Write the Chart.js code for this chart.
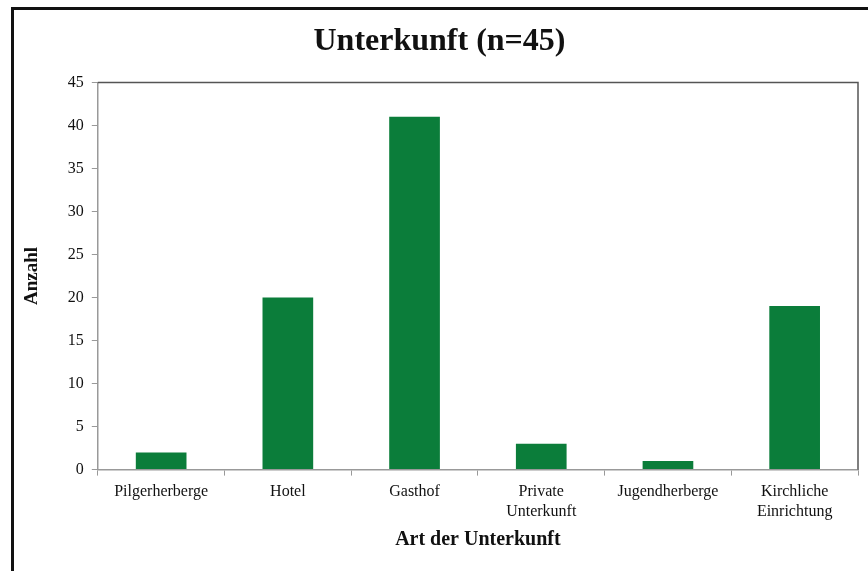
<!DOCTYPE html>
<html>
<head>
<meta charset="utf-8">
<script src="https://cdn.jsdelivr.net/npm/chart.js@4"></script>
<style>
  html, body { margin: 0; padding: 0; background: #fff; }
  #wrap { position: relative; width: 868px; height: 571px; overflow: hidden; }
  #frame { position: absolute; left: 11px; top: 7px; width: 900px; height: 600px;
           border-left: 3px solid #111; border-top: 3px solid #111; pointer-events: none; }
</style>
</head>
<body>
<div id="wrap">
  <canvas id="myChart" width="868" height="571"></canvas>
  <div id="frame"></div>
</div>
<script>
const categories = ['Pilgerherberge', 'Hotel', 'Gasthof', ['Private', 'Unterkunft'], 'Jugendherberge', ['Kirchliche', 'Einrichtung']];
const counts = [2, 20, 41, 3, 1, 19];
const yTicks = [0, 5, 10, 15, 20, 25, 30, 35, 40, 45];

// grauer Rahmen um den Plotbereich
const plotBox = {
    id: 'plotBox',
    beforeDatasetsDraw(chart) {
        const a = chart.chartArea;
        const ctx = chart.ctx;
        ctx.save();
        ctx.strokeStyle = '#555';
        ctx.lineWidth = 1.5;
        ctx.beginPath();
        ctx.moveTo(a.left, a.top);
        ctx.lineTo(a.right, a.top);
        ctx.lineTo(a.right, a.bottom);
        ctx.stroke();
        ctx.restore();
    }
};

const ctx = document.getElementById('myChart').getContext('2d');
new Chart(ctx, {
    type: 'bar',
    data: {
        labels: categories,
        datasets: [{
            label: 'Anzahl',
            data: counts,
            backgroundColor: '#0b7d3a',
            barPercentage: 0.4,
            categoryPercentage: 1
        }]
    },
    options: {
        responsive: false,
        animation: false,
        layout: { padding: { left: 21, right: 10, top: 0, bottom: 19 } },
        plugins: {
            legend: { display: false },
            tooltip: { enabled: false },
            title: {
                display: true,
                text: 'Unterkunft (n=45)',
                color: '#111',
                font: { family: 'Liberation Serif', size: 32, weight: 'bold' },
                padding: { top: 23, bottom: 21 }
            }
        },
        scales: {
            x: {
                grid: { drawOnChartArea: false, offset: true, tickLength: 6, color: '#999' },
                border: { color: '#999', width: 1.5 },
                ticks: { color: '#111', font: { family: 'Liberation Serif', size: 16 }, padding: 7, maxRotation: 0, autoSkip: false },
                title: {
                    display: true,
                    text: 'Art der Unterkunft',
                    color: '#111',
                    font: { family: 'Liberation Serif', size: 20, weight: 'bold' },
                    padding: { top: 0, bottom: 0 }
                }
            },
            y: {
                min: 0,
                max: 45,
                afterBuildTicks(axis) { axis.ticks = yTicks.map(v => ({ value: v })); },
                grid: { drawOnChartArea: false, tickLength: 6, color: '#999' },
                border: { color: '#999', width: 1.5 },
                ticks: { color: '#111', font: { family: 'Liberation Serif', size: 16 }, padding: 8 },
                title: {
                    display: true,
                    text: 'Anzahl',
                    color: '#111',
                    font: { family: 'Liberation Serif', size: 19, weight: 'bold' },
                    padding: { top: 0, bottom: 16 }
                }
            }
        }
    },
    plugins: [plotBox]
});
</script>
</body>
</html>
